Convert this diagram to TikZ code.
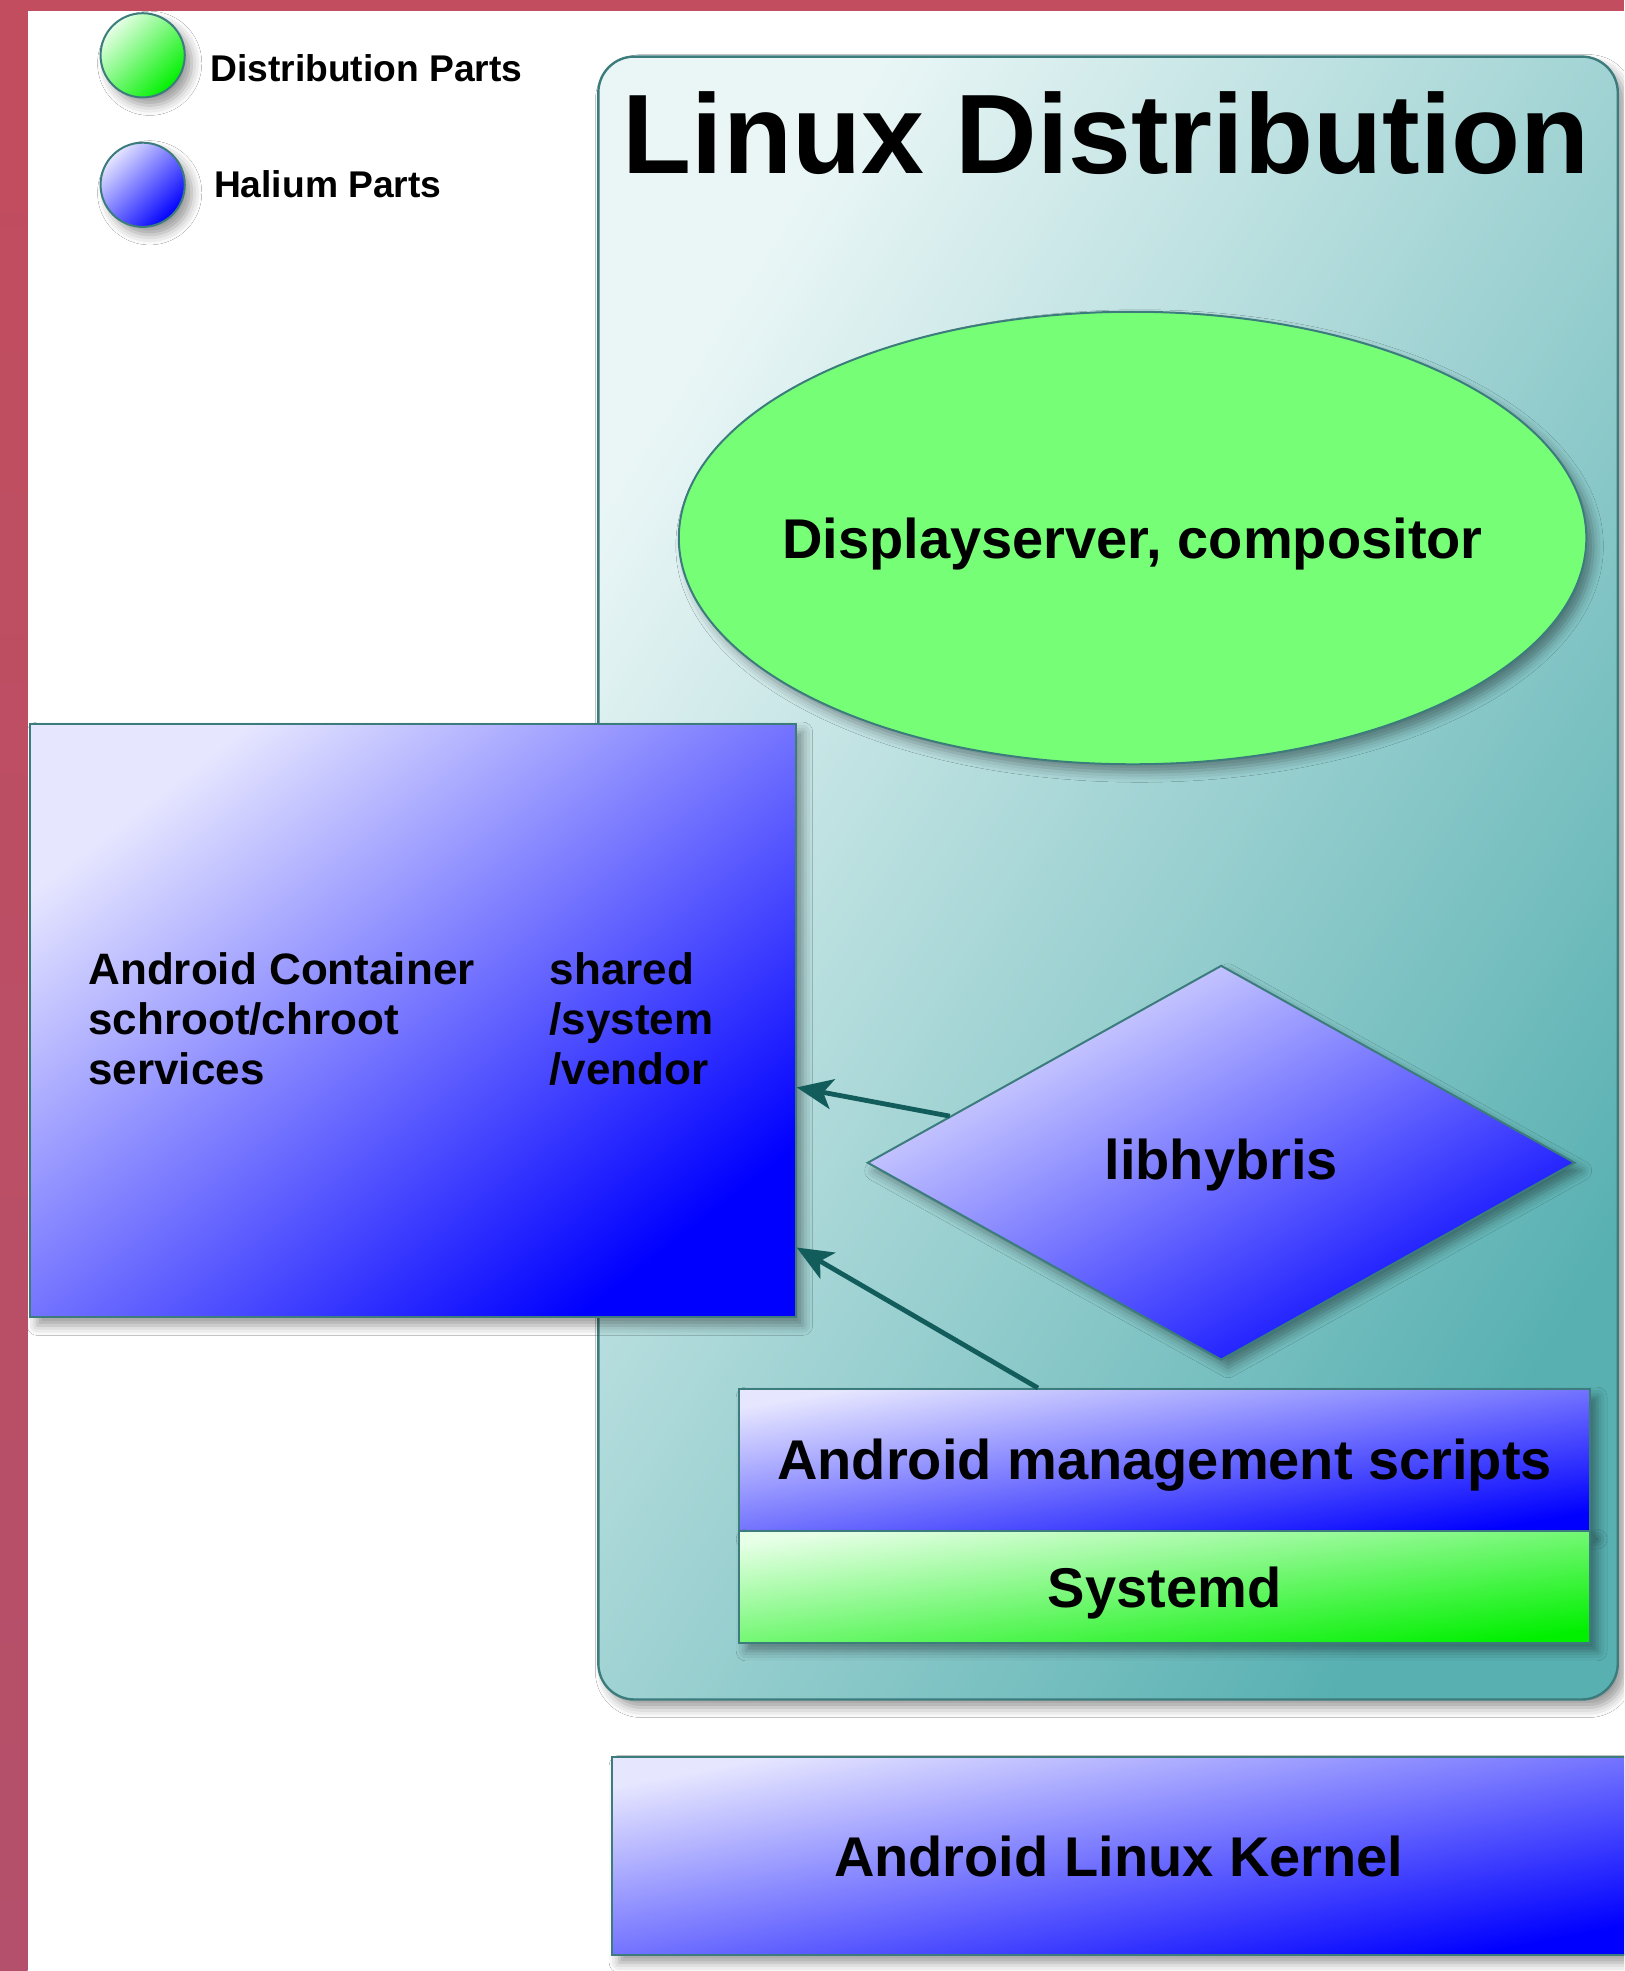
\documentclass[tikz,border=0pt]{standalone}
\usepackage{fontspec}
\setmainfont{Liberation Sans}
\usetikzlibrary{shapes.geometric,arrows.meta,calc,fit,shadows.blur}
\definecolor{frameA}{HTML}{C24D5E}
\definecolor{frameB}{HTML}{B4506B}
\definecolor{edge}{HTML}{3C7C7D}
\definecolor{ldA}{HTML}{EAF6F6}
\definecolor{ldB}{HTML}{58B0B1}
\definecolor{blA}{HTML}{E6E6FF}
\definecolor{blB}{HTML}{0000FF}
\definecolor{grA}{HTML}{E6FFE6}
\definecolor{grB}{HTML}{00F000}
\definecolor{ellfill}{HTML}{76FF76}
\definecolor{arrowc}{HTML}{135C5C}
\newcommand{\unitpx}{0.6285pt}
\begin{document}
\begin{tikzpicture}[x=0.6285pt,y=-0.6285pt,
  shad/.style={blur shadow={shadow xshift=3.5pt,shadow yshift=-4pt,shadow blur radius=5pt,shadow opacity=40}},
  bluebox/.style={draw=edge,line width=1pt,top color=blA,bottom color=blB,shading angle=#1,inner sep=0pt,shad},
  bluebox/.default=45,
  greenbox/.style={draw=edge,line width=1pt,top color=grA,bottom color=grB,shading angle=#1,inner sep=0pt,shad},
  greenbox/.default=45,
  lbl/.style={font=\fontsize{28}{32}\selectfont\bfseries,text=black,text depth=0pt,inner sep=0pt},
  cont/.style={font=\fontsize{22}{25.1}\selectfont\bfseries,align=left,inner sep=0pt,anchor=north west},
  legtxt/.style={font=\fontsize{18.6}{21}\selectfont\bfseries,inner sep=0pt,anchor=base west},
  arr/.style={draw=arrowc,line width=2.4pt,-{Stealth[length=18pt,width=15pt,inset=4.5pt]}},
]
\clip (0,0) rectangle (1292,1568);
\fill[white] (0,0) rectangle (1292,1568);

% Linux distribution frame
\node[fit={(476,45)(1287,1352)}, inner sep=0pt, rounded corners=18pt, draw=edge, line width=1.2pt,
      top color=ldA, bottom color=ldB, shading angle=58, shad] (ld) {};
\node[anchor=base, inner sep=0pt, font=\fontsize{56.5}{60}\selectfont\bfseries] (title) at (880,138) {Linux Distribution};

% display server
\node[ellipse, draw=edge, line width=1pt, fill=ellfill, minimum width=722*\unitpx, minimum height=360*\unitpx,
      inner sep=0pt, shad] (disp) at (901,428) {};
\node[lbl] (dispT) at (disp.center) {Displayserver, compositor};

% libhybris
\node[diamond, bluebox=29, minimum width=563*\unitpx, minimum height=314*\unitpx] (hyb) at (971.5,925) {};
\node[lbl] (hybT) at ($(hyb.center)+(0,-3)$) {libhybris};

% management scripts and systemd
\node[fit={(588,1105)(1265,1218)}, bluebox=9.5] (mgmt) {};
\node[lbl] (mgmtT) at ($(mgmt.center)+(0,-1)$) {Android management scripts};
\node[fit={(588,1218)(1265,1307)}, greenbox=7.5] (sysd) {};
\node[lbl] (sysdT) at (sysd.center) {Systemd};

% android container
\node[fit={(24,576)(633,1048)}, bluebox=37.8] (contbox) {};
\node[cont] (contL) at (70,757.5) {Android Container\\schroot/chroot\\services};
\node[cont] (contR) at (437,757.5) {shared\\/system\\/vendor};

% arrows
\draw[arr] ($(hyb.west)!0.235!(hyb.north)$) -- ($(contbox.north east)!0.612!(contbox.south east)$);
\draw[arr] ($(mgmt.north west)!0.3515!(mgmt.north east)$) -- ($(contbox.north east)!0.881!(contbox.south east)$);

% kernel
\node[fit={(487,1398)(1295,1555)}, bluebox=11] (kern) {};
\node[lbl] (kernT) at (890,1476.5) {Android Linux Kernel};

% legend
\node[circle, greenbox, minimum size=67*\unitpx] (lg) at (113.5,44) {};
\node[legtxt] (lgt) at (167,65) {Distribution Parts};
\node[circle, bluebox, minimum size=67*\unitpx] (lb) at (113.5,147) {};
\node[legtxt] (lbt) at (170,157) {Halium Parts};

% slide frame
\fill[frameA] (0,0) rectangle (1292,8.8);
\shade[top color=frameA, bottom color=frameB] (0,0) rectangle (22,1568);
\end{tikzpicture}
\end{document}
